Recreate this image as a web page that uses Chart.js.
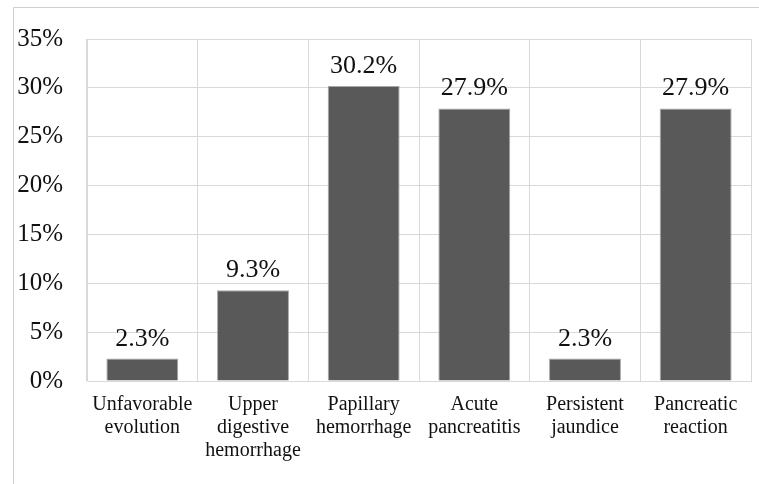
<!DOCTYPE html>
<html>
<head>
<meta charset="utf-8">
<script src="https://cdn.jsdelivr.net/npm/chart.js@4"></script>
<style>
  html, body { margin: 0; padding: 0; background: #fff; }
  #wrap { position: relative; width: 759px; height: 484px; }
</style>
</head>
<body>
<div id="wrap"><canvas id="chart" width="759" height="484"></canvas></div>
<script>
// complications, share of cases
const categories = [
  ['Unfavorable', 'evolution'],
  ['Upper', 'digestive', 'hemorrhage'],
  ['Papillary', 'hemorrhage'],
  ['Acute', 'pancreatitis'],
  ['Persistent', 'jaundice'],
  ['Pancreatic', 'reaction']
];
const percents = [2.3, 9.3, 30.2, 27.9, 2.3, 27.9];
const yTicks = [0, 5, 10, 15, 20, 25, 30, 35];

const serif = '"Liberation Serif", "Times New Roman", serif';

// outer frame lines (top and left)
const framePlugin = {
  id: 'frame',
  beforeDraw(chart) {
    const ctx = chart.ctx;
    ctx.save();
    ctx.strokeStyle = '#cfcfcf';
    ctx.lineWidth = 1;
    ctx.beginPath();
    ctx.moveTo(13.5, chart.height);
    ctx.lineTo(13.5, 7.5);
    ctx.lineTo(chart.width, 7.5);
    ctx.stroke();
    ctx.restore();
  }
};

// value labels above each bar
const valueLabels = {
  id: 'valueLabels',
  afterDatasetsDraw(chart) {
    const ctx = chart.ctx;
    const meta = chart.getDatasetMeta(0);
    ctx.save();
    ctx.font = '26px ' + serif;
    ctx.fillStyle = '#111';
    ctx.textAlign = 'center';
    ctx.textBaseline = 'alphabetic';
    meta.data.forEach((bar, i) => {
      ctx.fillText(percents[i].toFixed(1) + '%', bar.x, bar.y - 13);
    });
    ctx.restore();
  }
};

new Chart(document.getElementById('chart'), {
  type: 'bar',
  data: {
    labels: categories,
    datasets: [{
      data: percents,
      backgroundColor: '#595959',
      borderColor: '#a8a8a8',
      borderWidth: 1,
      barPercentage: 0.65,
      categoryPercentage: 1
    }]
  },
  options: {
    responsive: false,
    animation: false,
    layout: { padding: { left: 0, top: 34, right: 8, bottom: 0 } },
    plugins: {
      legend: { display: false },
      tooltip: { enabled: false }
    },
    scales: {
      x: {
        grid: { color: '#d9d9d9', drawTicks: false, offset: true },
        border: { color: '#d9d9d9' },
        ticks: {
          color: '#111',
          padding: 12,
          maxRotation: 0,
          autoSkip: false,
          font: { family: serif, size: 20, lineHeight: 1.15 }
        },
        afterFit(scale) { scale.height = 103; }
      },
      y: {
        min: 0,
        max: 35,
        afterBuildTicks(scale) { scale.ticks = yTicks.map(v => ({ value: v })); },
        grid: { color: '#d9d9d9', drawTicks: false },
        border: { color: '#d9d9d9' },
        ticks: {
          color: '#111',
          padding: 24,
          font: { family: serif, size: 25 },
          callback: v => v + '%'
        },
        afterFit(scale) { scale.width = 87; }
      }
    }
  },
  plugins: [framePlugin, valueLabels]
});
</script>
</body>
</html>
